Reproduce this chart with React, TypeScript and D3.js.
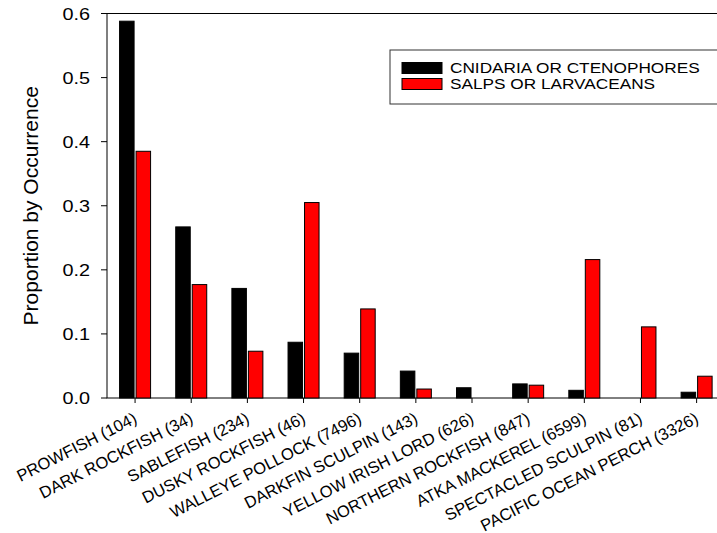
import React, { useEffect, useRef } from "react";
import * as d3 from "d3";

// Species (sample size) on the x axis
const categories = [
  "PROWFISH (104)",
  "DARK ROCKFISH (34)",
  "SABLEFISH (234)",
  "DUSKY ROCKFISH (46)",
  "WALLEYE POLLOCK (7496)",
  "DARKFIN SCULPIN (143)",
  "YELLOW IRISH LORD (626)",
  "NORTHERN ROCKFISH (847)",
  "ATKA MACKEREL (6599)",
  "SPECTACLED SCULPIN (81)",
  "PACIFIC OCEAN PERCH (3326)",
];

const seriesNames = ["CNIDARIA OR CTENOPHORES", "SALPS OR LARVACEANS"];

const cnidariaValues = [0.588, 0.267, 0.171, 0.087, 0.07, 0.042, 0.016, 0.022, 0.012, 0, 0.009];
const salpsValues = [0.385, 0.177, 0.073, 0.305, 0.139, 0.014, 0, 0.02, 0.216, 0.111, 0.034];

const yTicks = [0.0, 0.1, 0.2, 0.3, 0.4, 0.5, 0.6];
const seriesColors = ["#000000", "#ff0000"];

const W = 717;
const H = 533;
const plot = { left: 107, right: 724.7, top: 13.5, bottom: 398 };

export default function App() {
  const ref = useRef<SVGSVGElement | null>(null);

  useEffect(() => {
    document.body.style.margin = "0";
    const svg = d3.select(ref.current);
    svg.selectAll("*").remove();

    const x = d3.scaleBand<string>().domain(categories).range([plot.left, plot.right]).paddingInner(0).paddingOuter(0);
    const y = d3.scaleLinear().domain([0, 0.6]).range([plot.bottom, plot.top]);
    const inner = d3.scaleBand<number>().domain([0, 1]).range([-15.5, 15.5]).paddingInner(0.12);

    const font = "'Liberation Sans', Arial, Helvetica, sans-serif";

    // frame
    svg
      .append("rect")
      .attr("x", plot.left)
      .attr("y", plot.top)
      .attr("width", plot.right - plot.left)
      .attr("height", plot.bottom - plot.top)
      .attr("fill", "none")
      .attr("stroke", "#000")
      .attr("stroke-width", 1);

    // bars
    const series = [cnidariaValues, salpsValues];
    series.forEach((vals, si) => {
      svg
        .append("g")
        .selectAll("rect")
        .data(vals.map((v, i) => ({ v, c: categories[i] })))
        .join("rect")
        .filter((d) => d.v > 0)
        .attr("x", (d) => (x(d.c) as number) + x.bandwidth() / 2 + (inner(si) as number))
        .attr("y", (d) => y(d.v))
        .attr("width", inner.bandwidth())
        .attr("height", (d) => y(0) - y(d.v))
        .attr("fill", seriesColors[si])
        .attr("stroke", "#000")
        .attr("stroke-width", 1);
    });

    // y axis
    const yAxis = svg.append("g");
    yTicks.forEach((t) => {
      yAxis
        .append("line")
        .attr("x1", plot.left - 6)
        .attr("x2", plot.left)
        .attr("y1", y(t))
        .attr("y2", y(t))
        .attr("stroke", "#000");
      yAxis
        .append("text")
        .attr("transform", `translate(${plot.left - 17},${y(t) + 6}) scale(1.24,1)`)
        .attr("text-anchor", "end")
        .attr("font-family", font)
        .attr("font-size", 16)
        .text(d3.format(".1f")(t));
    });

    // x axis ticks and labels
    const xAxis = svg.append("g");
    categories.forEach((c) => {
      const cx = (x(c) as number) + x.bandwidth() / 2;
      xAxis
        .append("line")
        .attr("x1", cx)
        .attr("x2", cx)
        .attr("y1", plot.bottom)
        .attr("y2", plot.bottom + 5)
        .attr("stroke", "#000");
      xAxis
        .append("text")
        .attr("transform", `translate(${cx + 3},${plot.bottom + 24}) rotate(-27)`)
        .attr("text-anchor", "end")
        .attr("font-family", font)
        .attr("font-size", 16.5)
        .text(c);
    });

    // y axis title
    svg
      .append("text")
      .attr("transform", `translate(38,${(plot.top + plot.bottom) / 2}) rotate(-90)`)
      .attr("text-anchor", "middle")
      .attr("font-family", font)
      .attr("font-size", 21)
      .text("Proportion by Occurrence");

    // legend
    const lg = svg.append("g");
    lg.append("rect")
      .attr("x", 390)
      .attr("y", 50)
      .attr("width", 340)
      .attr("height", 54)
      .attr("fill", "#fff")
      .attr("stroke", "#333")
      .attr("stroke-width", 1);
    seriesNames.forEach((name, i) => {
      const cy = 68 + i * 16;
      lg.append("rect")
        .attr("x", 402)
        .attr("y", cy - 5.5)
        .attr("width", 40)
        .attr("height", 11)
        .attr("fill", seriesColors[i])
        .attr("stroke", "#000");
      lg.append("text")
        .attr("transform", `translate(450,${cy + 5}) scale(1.23,1)`)
        .attr("font-family", font)
        .attr("font-size", 14)
        .text(name);
    });
  }, []);

  return <svg ref={ref} width={W} height={H} style={{ display: "block" }} />;
}
